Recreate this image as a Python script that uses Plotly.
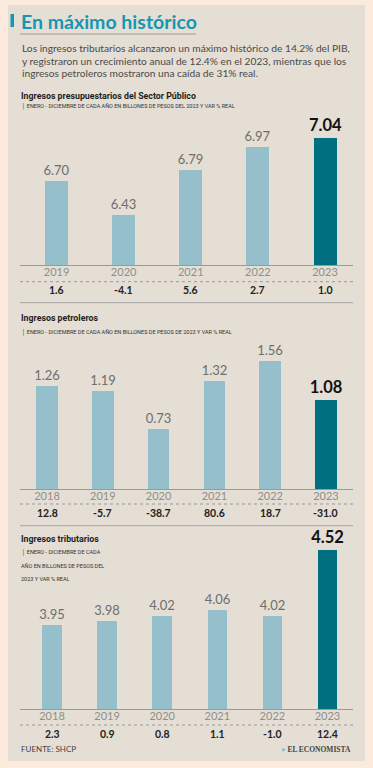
import plotly.graph_objects as go

W, H = 373, 768

# ---------------- data ----------------
years_a = ["2019", "2020", "2021", "2022", "2023"]
values_a = [6.70, 6.43, 6.79, 6.97, 7.04]
var_a = [1.6, -4.1, 5.6, 2.7, 1.0]

years_b = ["2018", "2019", "2020", "2021", "2022", "2023"]
values_b = [1.26, 1.19, 0.73, 1.32, 1.56, 1.08]
var_b = [12.8, -5.7, -38.7, 80.6, 18.7, -31.0]

years_c = ["2018", "2019", "2020", "2021", "2022", "2023"]
values_c = [3.95, 3.98, 4.02, 4.06, 4.02, 4.52]
var_c = [2.3, 0.9, 0.8, 1.1, -1.0, 12.4]

title = "En máximo histórico"
intro = [
    "Los ingresos tributarios alcanzaron un máximo histórico de 14.2% del PIB,",
    "y registraron un crecimiento anual de 12.4% en el 2023, mientras que los",
    "ingresos petroleros mostraron una caída de 31% real.",
]
panel_titles = ["Ingresos presupuestarios del Sector Público", "Ingresos petroleros", "Ingresos tributarios"]
panel_subs = [
    ["│ ENERO - DICIEMBRE DE CADA AÑO EN BILLONES DE PESOS DEL 2023 Y VAR % REAL"],
    ["│ ENERO - DICIEMBRE DE CADA AÑO EN BILLONES DE PESOS DE 2023 Y VAR % REAL"],
    ["│ ENERO - DICIEMBRE DE CADA", "AÑO EN BILLONES DE PESOS DEL", "2023 Y VAR % REAL"],
]
source = "FUENTE: SHCP"
brand = "EL ECONOMISTA"

# ---------------- style ----------------
OUTER = "#FCEBDD"
CARD = "#E4DED4"
LIGHT = "#95BFCA"
DARK = "#006F7F"
TEAL = "#1796B4"
GREY = "#8E8E8E"
TXT = "#4A4A4A"
NUM_FONT = "Lato, 'Open Sans', sans-serif"
COND = "Roboto, 'Liberation Sans', sans-serif"


def px(x):
    return x / W


def py(y):
    return 1 - y / H


fig = go.Figure()
annotations = []
shapes = []

# card
shapes.append(dict(type="rect", xref="paper", yref="paper", x0=px(8), x1=px(365), y0=py(761), y1=py(5),
                   fillcolor=CARD, line=dict(width=0), layer="below"))
# title marker and underline
shapes.append(dict(type="rect", xref="paper", yref="paper", x0=px(10.5), x1=px(14), y0=py(27), y1=py(14),
                   fillcolor=TEAL, line=dict(width=0)))
shapes.append(dict(type="line", xref="paper", yref="paper", x0=px(20), x1=px(196), y0=py(34), y1=py(34),
                   line=dict(color="#8C8C8C", width=0.8)))

annotations.append(dict(text=f"<b>{title}</b>", x=px(19), y=py(21), xref="paper", yref="paper",
                        xanchor="left", yanchor="middle", showarrow=False,
                        font=dict(family="Lato, sans-serif", size=19.5, color=TEAL)))
for i, line in enumerate(intro):
    annotations.append(dict(text=line, x=px(19.5), y=py(48.5 + 12.3 * i), xref="paper", yref="paper",
                            xanchor="left", yanchor="middle", showarrow=False,
                            font=dict(family=NUM_FONT, size=10.2, color=TXT)))

panels = [
    dict(years=years_a, values=values_a, var=var_a, yb=265, yt=112, v0=6.04, k=127.0,
         xr=[-0.544, 4.417], bw=0.343, title_y=96, sub_y=[107], dot_y=281.7, var_y=290.5, solid_y=302.7),
    dict(years=years_b, values=values_b, var=var_b, yb=489, yt=338, v0=0.0, k=82.0,
         xr=[-0.484, 5.484], bw=0.39, title_y=318, sub_y=[332], dot_y=504, var_y=513, solid_y=525.7),
    dict(years=years_c, values=values_c, var=var_c, yb=709, yt=528, v0=3.31, k=131.6,
         xr=[-0.581, 5.463], bw=0.354, title_y=539, sub_y=[552.7, 565.7, 579], dot_y=725, var_y=734,
         solid_y=None),
]

for i, p in enumerate(panels):
    n = i + 1
    xa = "x" if n == 1 else f"x{n}"
    ya = "y" if n == 1 else f"y{n}"
    last = len(p["values"]) - 1
    colors = [LIGHT] * last + [DARK]
    texts = [f"{v:.2f}" for v in p["values"][:-1]] + [f"<b>{p['values'][-1]:.2f}</b>"]
    fig.add_trace(go.Bar(
        x=p["years"], y=p["values"], xaxis=xa, yaxis=ya, marker=dict(color=colors, line=dict(width=0)),
        width=p["bw"], text=texts, textposition="outside", constraintext="none", cliponaxis=True,
        textfont=dict(family=NUM_FONT, size=[13] * last + [16.5],
                      color=["#6E6E6E"] * last + ["#111111"]),
        hoverinfo="skip", showlegend=False,
    ))
    top = p["v0"] + (p["yb"] - p["yt"]) / p["k"]
    xkey = "xaxis" if n == 1 else f"xaxis{n}"
    ykey = "yaxis" if n == 1 else f"yaxis{n}"
    fig.layout[xkey] = dict(domain=[px(20), px(353)], anchor=ya, type="category", range=p["xr"],
                            showline=True, linecolor="#9A9A9A", linewidth=1, ticks="", showgrid=False,
                            zeroline=False, fixedrange=True, ticklabelstandoff=-3,
                            tickfont=dict(family=NUM_FONT, size=11, color=GREY))
    fig.layout[ykey] = dict(domain=[py(p["yb"]), py(p["yt"])], anchor=xa, range=[p["v0"], top],
                            visible=False, fixedrange=True)
    # section title & subtitle
    annotations.append(dict(text=f"<b>{panel_titles[i]}</b>", x=px(19), y=py(p["title_y"]), xref="paper",
                            yref="paper", xanchor="left", yanchor="middle", showarrow=False,
                            font=dict(family=COND, size=8.8, color="#1E1E1E")))
    for j, (sl, sy) in enumerate(zip(panel_subs[i], p["sub_y"])):
        annotations.append(dict(text=sl, x=px(20 if j == 0 else 19), y=py(sy), xref="paper", yref="paper",
                                xanchor="left", yanchor="middle", showarrow=False,
                                font=dict(family=COND, size=5.5, color="#333333")))
    # dotted separator
    shapes.append(dict(type="line", xref="paper", yref="paper", x0=px(20), x1=px(353),
                       y0=py(p["dot_y"]), y1=py(p["dot_y"]), line=dict(color="#9A9A9A", width=1, dash="dot")))
    if p["solid_y"] is not None:
        shapes.append(dict(type="line", xref="paper", yref="paper", x0=px(20), x1=px(353),
                           y0=py(p["solid_y"]), y1=py(p["solid_y"]), line=dict(color="#A5A5A5", width=1)))
    for idx, v in enumerate(p["var"]):
        annotations.append(dict(text=f"<b>{v:.1f}</b>", x=idx, xref=xa, y=py(p["var_y"]), yref="paper",
                                xanchor="center", yanchor="middle", showarrow=False,
                                font=dict(family=NUM_FONT, size=10.5, color="#222222")))

annotations.append(dict(text=source, x=px(19), y=py(749), xref="paper", yref="paper", xanchor="left",
                        yanchor="middle", showarrow=False, font=dict(family=NUM_FONT, size=8, color="#444444")))
annotations.append(dict(text=f"<span style='color:{LIGHT}'>●</span> <b>{brand}</b>", x=px(353), y=py(749),
                        xref="paper", yref="paper", xanchor="right", yanchor="middle", showarrow=False,
                        font=dict(family="'Liberation Serif', serif", size=7.5, color="#444444")))

fig.update_layout(width=W, height=H, margin=dict(l=0, r=0, t=0, b=0), paper_bgcolor=OUTER,
                  plot_bgcolor="rgba(0,0,0,0)", annotations=annotations, shapes=shapes, bargap=0,
                  showlegend=False)

fig.write_html("out.html", config=dict(displayModeBar=False),
               post_script="document.body.style.margin='0';document.body.style.padding='0';"
                           "document.body.style.overflow='hidden';")
